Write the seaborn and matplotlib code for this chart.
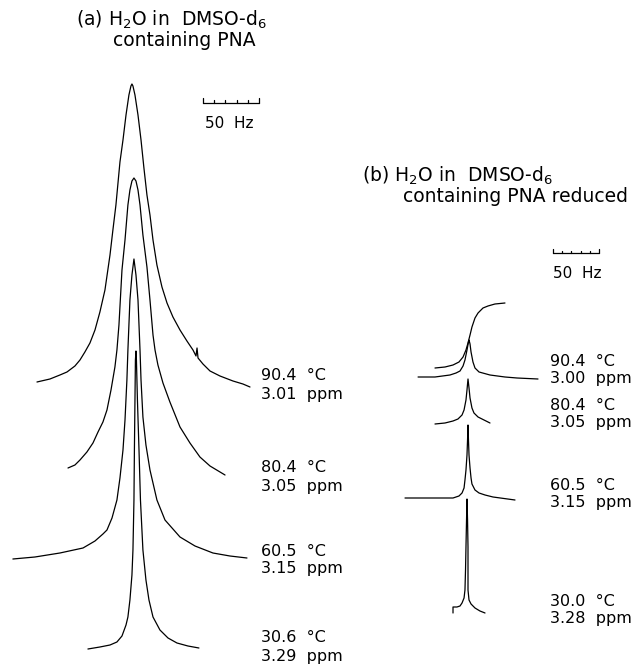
import matplotlib
matplotlib.use("Agg")
import matplotlib.pyplot as plt
import seaborn as sns
import pandas as pd

# ---------------- data ----------------
# Panel (a): H2O in DMSO-d6 containing PNA.  x = frequency offset (Hz), y = intensity (a.u.)
a_labels = [("90.4  °C", "3.01  ppm"), ("80.4  °C", "3.05  ppm"),
            ("60.5  °C", "3.15  ppm"), ("30.6  °C", "3.29  ppm")]
a904_hz = [-86.6, -75.0, -66.1, -59.8, -52.7, -48.2, -43.8, -39.3, -34.8, -30.4, -25.9,
           -21.4, -18.8, -16.1, -12.5, -9.8, -7.1, -4.5, -2.7, -1.8,
           -0.9, 0.9, 3.6, 6.3, 8.9, 11.6, 14.3, 17.0, 20.5, 25.0, 29.5, 34.8, 41.1,
           47.3, 52.7, 55.4, 56.3, 57.2, 61.6, 67.9, 76.8, 88.4, 97.3, 103.6]
a904_int = [3, 6, 10, 13, 19, 25, 33, 42, 55, 73, 95,
            130, 155, 180, 223, 245, 270, 290, 299, 301,
            299, 290, 270, 245, 217, 190, 170, 145, 120, 98, 82, 68, 55,
            44, 35, 29, 37, 27, 21, 14, 9, 4, 1, -2]
a804_hz = [-58.9, -52.7, -48.2, -42.0, -36.6, -32.1, -27.7, -24.1, -20.5, -17.0, -15.2,
           -13.4, -10.7, -8.0, -5.4, -3.6, -1.8, 0.0,
           1.8, 3.6, 5.4, 8.0, 11.6, 14.3, 17.0, 18.8, 21.4, 25.9, 32.1, 41.1, 50.0,
           58.9, 67.9, 81.3]
a804_int = [4, 7, 12, 20, 29, 40, 50, 62, 82, 105, 122,
            147, 202, 232, 267, 282, 291, 294,
            291, 282, 267, 237, 205, 172, 137, 122, 107, 89, 70, 45, 29,
            15, 6, -3]
a605_hz = [-108.1, -88.4, -66.1, -45.5, -34.8, -27.7, -24.1, -19.6, -15.2, -12.5, -9.8,
           -8.0, -6.3, -5.4, -3.6, -1.8, 0.0,
           1.8, 3.6, 5.4, 6.3, 8.0, 10.7, 14.3, 20.5, 27.7, 41.1, 54.5, 70.5, 85.7, 100.9]
a605_int = [-1, 1, 5, 10, 17, 24, 28, 40, 58, 80, 108,
            138, 178, 208, 258, 283, 299,
            283, 258, 208, 178, 141, 113, 88, 58, 38, 21, 12, 5, 2, 0]
a306_hz = [-41.1, -30.4, -21.4, -15.2, -10.7, -7.1, -5.4, -3.6, -1.8, -0.9, 0.0, 0.4,
           0.9, 1.3, 1.8, 2.2, 3.1, 4.5, 5.8, 8.0, 10.7, 13.4, 17.0, 23.2, 30.4, 38.4,
           48.2, 58.0]
a306_int = [-1, 1, 3, 6, 12, 23, 31, 48, 73, 98, 148, 198,
            248, 288, 297, 288, 248, 198, 148, 98, 68, 48, 31, 18, 10, 5,
            2, 0]

# Panel (b): H2O in DMSO-d6 containing PNA reduced
b_labels = [("90.4  °C", "3.00  ppm"), ("80.4  °C", "3.05  ppm"),
            ("60.5  °C", "3.15  ppm"), ("30.0  °C", "3.28  ppm")]
b904_hz = [-54.3, -35.9, -19.6, -13.0, -8.7, -5.4, -3.3, -1.1, 0.5, 1.1, 2.2, 3.3,
           5.4, 7.6, 12.0, 23.9, 40.2, 53.3, 76.1]
b904_int = [0, 0, 2, 4, 6, 11, 17, 27, 35, 37, 33, 25, 15, 9, 5, 2, 0, -1, -2]
b904_int_hz = [-35.9, -25.0, -16.3, -9.8, -5.4, -2.2, 0.0, 2.2, 4.3, 7.6, 10.9,
               16.3, 21.7, 29.3, 40.2]                                  # integral trace
b904_int_val = [9, 10, 12, 15, 20, 27, 34, 42, 50, 59, 64, 69, 71, 73, 74]
b804_hz = [-35.9, -25.0, -16.3, -10.9, -6.5, -4.3, -2.2, -1.1, 0.0, 1.1, 2.2, 4.3,
           6.5, 10.9, 17.4, 23.9]
b804_int = [-1, 0, 2, 4, 8, 13, 23, 33, 44, 35, 25, 15, 10, 6, 3, 0]
b605_hz = [-68.5, -41.3, -16.3, -9.8, -6.5, -4.3, -3.3, -2.2, -1.1, -0.5, 0.0, 0.5,
           1.1, 2.2, 3.3, 4.3, 7.6, 12.0, 18.5, 27.2, 51.1]
b605_int = [1, 1, 1, 3, 6, 11, 19, 29, 44, 59, 74, 59, 44, 31, 21, 15, 9, 6, 4, 2, -1]
b300_hz = [-16.3, -16.3, -12.0, -8.7, -6.5, -4.3, -3.3, -2.7, -2.2, -1.6, -1.1, -0.5,
           0.0, 0.0, 0.0, 1.1, 3.3, 7.6, 13.0, 18.5]
b300_int = [-3, 3, 3, 4, 7, 12, 20, 40, 63, 90, 111, 90, 63, 40, 20, 10, 6, 2, -1, -3]

scale_hz = [0, 10, 20, 30, 40, 50]

# ---------------- layout ----------------
W, H = 639, 667
a_offsets = [282, 195, 109, 19]        # vertical stacking of spectra (a.u.)
b_offsets = [290, 244, 168, 57]

sns.set_style("white")
plt.rcParams["font.family"] = ["DejaVu Sans"]
fig = plt.figure(figsize=(W / 100, H / 100), dpi=100)
ax_a = fig.add_axes([0, 0, 320 / W, 1])
ax_b = fig.add_axes([320 / W, 0, 1 - 320 / W, 1])
for ax in (ax_a, ax_b):
    ax.set_axis_off()
    ax.set_ylim(0, H)
ax_a.set_xlim(-119.6, 166.1)
ax_b.set_xlim(-160.9, 185.9)

lw = 0.9
def draw(ax, hz, inten, off):
    df = pd.DataFrame({"hz": hz, "y": [v + off for v in inten]})
    sns.lineplot(data=df, x="hz", y="y", sort=False, estimator=None,
                 color="black", lw=lw, ax=ax)

for hz, it, off in zip([a904_hz, a804_hz, a605_hz, a306_hz],
                       [a904_int, a804_int, a605_int, a306_int], a_offsets):
    draw(ax_a, hz, it, off)
for hz, it, off in zip([b904_hz, b804_hz, b605_hz, b300_hz],
                       [b904_int, b804_int, b605_int, b300_int], b_offsets):
    draw(ax_b, hz, it, off)
draw(ax_b, b904_int_hz, b904_int_val, b_offsets[0])

# scale bars (50 Hz, 10 Hz divisions)
def scalebar(ax, x0, y0, big, small):
    xs = [x0 + s for s in scale_hz]
    ax.plot([xs[0], xs[-1]], [y0, y0], color="black", lw=lw)
    for i, x in enumerate(xs):
        h = big if i in (0, len(xs) - 1) else small
        ax.plot([x, x], [y0, y0 + h], color="black", lw=lw)
scalebar(ax_a, 61.6, 564, 5, 3)
scalebar(ax_b, 92.4, 414, 4, 2.5)

def ftext(x, y, s, size, ha="left"):
    fig.text(x / W, 1 - y / H, s, fontsize=size, ha=ha, va="center", color="black")

tsize = 13.5
ftext(76, 20, "(a) H$_2$O in  DMSO-d$_6$", tsize)
ftext(113, 40, "containing PNA", tsize)
ftext(362, 176, "(b) H$_2$O in  DMSO-d$_6$", tsize)
ftext(403, 197, "containing PNA reduced", tsize)

ftext(229, 123, "50  Hz", 11, ha="center")
ftext(577, 273, "50  Hz", 11, ha="center")

lsize = 11.5
a_label_y = [376, 468, 551, 638]
b_label_y = [362, 406, 486, 601]
for (l1, l2), y in zip(a_labels, a_label_y):
    ftext(261, y, l1, lsize)
    ftext(261, y + 18, l2, lsize)
for (l1, l2), y in zip(b_labels, b_label_y):
    ftext(550, y, l1, lsize)
    ftext(550, y + 17, l2, lsize)

fig.savefig("out.png", dpi=100)
